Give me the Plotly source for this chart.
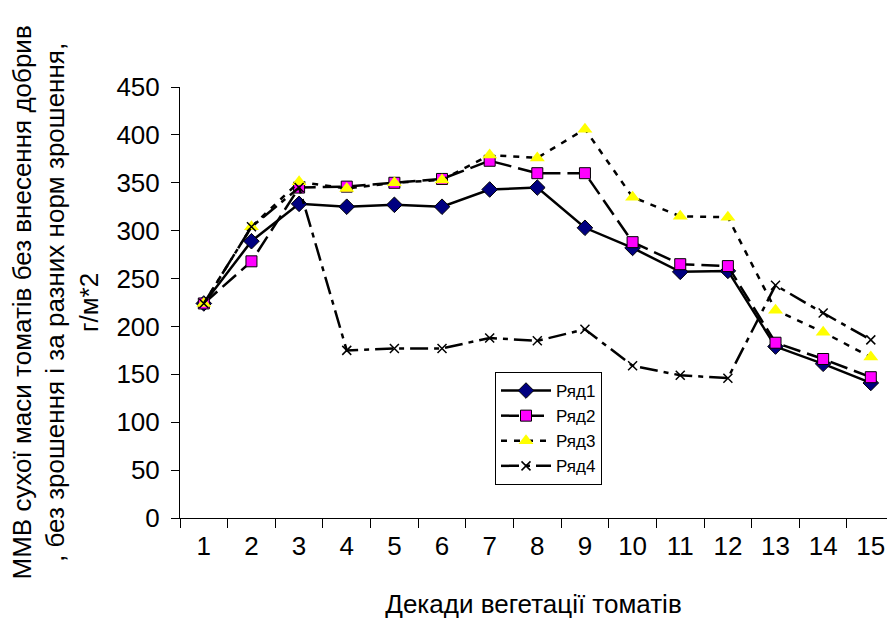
import plotly.graph_objects as go

categories = [str(i) for i in range(1, 16)]
series_names = ["Ряд1", "Ряд2", "Ряд3", "Ряд4"]
r1 = [224, 289, 328, 325, 327, 325, 343, 345, 303, 282, 257, 258, 179, 161, 141]
r2 = [224, 268, 345, 346, 350, 354, 373, 360, 360, 288, 265, 263, 183, 166, 147]
r3 = [224, 304, 351, 344, 350, 353, 379, 376, 406, 335, 315, 314, 217, 194, 168]
r4 = [224, 304, 345, 175, 177, 177, 188, 185, 197, 159, 149, 146, 243, 214, 186]

x_title = "Декади вегетації томатів"
y_title_lines = ["ММВ сухої маси томатів без внесення добрив",
                 ", без зрошення і за разних норм зрошення,",
                 "г/м*2"]

FONT = "Liberation Sans, Arial, sans-serif"

fig = go.Figure()
fig.add_trace(go.Scatter(x=categories, y=r1, name=series_names[0], mode="lines+markers",
                         line=dict(color="black", width=2.5),
                         marker=dict(symbol="diamond", size=12, color="#000080",
                                     line=dict(color="black", width=1))))
fig.add_trace(go.Scatter(x=categories, y=r2, name=series_names[1], mode="lines+markers",
                         line=dict(color="black", width=2.5, dash="18px,7px"),
                         marker=dict(symbol="square", size=11, color="#FF00FF",
                                     line=dict(color="black", width=1))))
fig.add_trace(go.Scatter(x=categories, y=r3, name=series_names[2], mode="lines+markers",
                         line=dict(color="black", width=2.5, dash="6px,7px"),
                         marker=dict(symbol="triangle-up", size=13, color="#FFFF00",
                                     line=dict(width=0))))
fig.add_trace(go.Scatter(x=categories, y=r4, name=series_names[3], mode="lines+markers",
                         line=dict(color="black", width=2.5, dash="18px,6px,5px,6px"),
                         marker=dict(symbol="x-thin", size=9, color="black",
                                     line=dict(color="black", width=1.5))))

fig.add_annotation(text="<br>".join(y_title_lines), xref="paper", yref="paper",
                   x=(55 - 180) / 707, y=0.5, xanchor="center", yanchor="middle",
                   textangle=-90, showarrow=False, align="center",
                   font=dict(family=FONT, size=26, color="black"))

fig.update_layout(
    width=887, height=619,
    margin=dict(l=180, r=0, t=87, b=101),
    paper_bgcolor="white", plot_bgcolor="white",
    font=dict(family=FONT, color="black"),
    showlegend=True,
    legend=dict(x=(495 - 180) / 707, y=(518 - 372) / 431, xanchor="left", yanchor="top",
                bgcolor="white", bordercolor="black", borderwidth=1,
                font=dict(family=FONT, size=17, color="black"),
                tracegroupgap=0, itemwidth=50),
    xaxis=dict(type="category", range=[-0.5, 14.34], tickson="boundaries",
               ticks="outside", ticklen=9, tickcolor="black", tickwidth=1,
               showline=True, linecolor="black", linewidth=1, showgrid=False,
               zeroline=False, tickfont=dict(family=FONT, size=26, color="black"),
               ticklabelstandoff=5,
               title=dict(text=x_title, font=dict(family=FONT, size=26, color="black"),
                          standoff=34)),
    yaxis=dict(range=[0, 450], dtick=50, ticks="outside", ticklen=8, tickcolor="black",
               tickwidth=1, showline=True, linecolor="black", linewidth=1,
               showgrid=False, zeroline=False,
               tickfont=dict(family=FONT, size=26, color="black"),
               ticklabelstandoff=6),
)

fig.write_html("out.html")
